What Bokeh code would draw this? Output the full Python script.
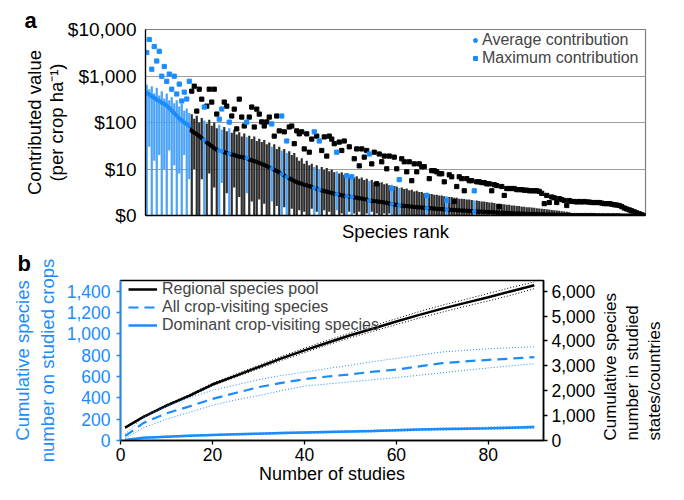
import math
from bokeh.plotting import figure
from bokeh.models import (Range1d, LinearAxis, FixedTicker, Legend, LegendItem,
                          NumeralTickFormatter)
from bokeh.embed import file_html
from bokeh.resources import INLINE

FONT = "Liberation Sans"
BLUE = "#1a8cff"
BAR_BLUE = "#4aa3f7"
BAR_BLACK = "#2e2e2e"

# ---------------- panel a data ----------------
RANK = list(range(1, 201))
BLUE_RANKS = list(range(1, 19)) + [24, 30, 31, 34, 41, 51, 55, 57, 68, 70, 77, 81, 83,
                                   90, 99, 102, 113, 121, 132]
AVG = [430, 400, 365, 335, 310, 290, 265, 250, 230, 205,
       180, 160, 140, 122, 112, 100, 92, 85, 66, 60,
       56, 51, 46, 42, 37, 34, 31, 28, 26, 25,
       24, 23, 22, 21.5, 20.5, 20, 19, 18.5, 18, 17.5,
       17.2, 16, 15.3, 14.8, 14.2, 13.5, 12.8, 12.2, 11.5, 10.8,
       10.2, 9.6, 9.0, 8.4, 7.8, 7.3, 6.8, 6.3, 5.9, 5.5,
       5.2, 5.0, 4.8, 4.6, 4.45, 4.3, 4.1, 3.95, 3.75, 3.6,
       3.45, 3.35, 3.25, 3.15, 3.05, 2.95, 2.87, 2.8, 2.72, 2.65,
       2.6, 2.55, 2.5, 2.45, 2.4, 2.35, 2.3, 2.25, 2.2, 2.1,
       2.07, 2.04, 2.01, 1.98, 1.95, 1.91, 1.86, 1.81, 1.76, 1.72,
       1.69, 1.66, 1.63, 1.61, 1.59, 1.57, 1.55, 1.53, 1.51, 1.5,
       1.48, 1.47, 1.45, 1.44, 1.42, 1.41, 1.39, 1.38, 1.37, 1.35,
       1.34, 1.33, 1.32, 1.31, 1.3, 1.29, 1.28, 1.27, 1.26, 1.25,
       1.24, 1.23, 1.22, 1.21, 1.21, 1.2, 1.19, 1.18, 1.18, 1.17,
       1.16, 1.15, 1.15, 1.14, 1.13, 1.13, 1.12, 1.11, 1.11, 1.1,
       1.1, 1.09, 1.09, 1.08, 1.08, 1.07, 1.07, 1.06, 1.06, 1.06,
       1.05, 1.05, 1.05, 1.04, 1.04, 1.04, 1.03, 1.03, 1.03, 1.03,
       1.02, 1.02, 1.02, 1.02, 1.02, 1.02, 1.02, 1.02, 1.02, 1.02,
       1.01, 1.01, 1.01, 1.01, 1.01, 1.01, 1.01, 1.01, 1.01, 1.01,
       1.0, 1.0, 1.0, 1.0, 1.0, 1.0, 1.0, 1.0, 1.0, 1.0]
MAXV = [3200, 6100, 1400, 4300, 2100, 3400, 990, 1600, 770, 1100,
        520, 990, 410, 670, 290, 450, 320, 770, 472, 604,
        176, 521, 318, 215, 225, 521, 275, 520, 152, 118,
        195, 275, 225, 102, 138, 194, 73, 318, 131, 84,
        102, 131, 215, 80, 194, 152, 103, 84, 103, 131,
        93, 51, 138, 66, 138, 63, 40, 80, 84, 35,
        66, 57, 63, 27, 57, 23, 44, 63, 51, 40,
        25, 49, 19, 51, 44, 35, 23, 38, 25, 40,
        7.2, 30, 6.8, 16.6, 27, 11.7, 27, 18, 25, 21,
        12.9, 23, 4.8, 21, 14.3, 19, 10.1, 19, 3.8, 18,
        10.1, 5.9, 16.6, 14.3, 8.7, 14.3, 5.6, 12.9, 8.7, 12.9,
        11.2, 11.2, 2.7, 6.2, 9.2, 9.2, 8.7, 7.9, 7.9, 5.3,
        2.1, 7.5, 6.8, 2.0, 4.2, 6.8, 6.2, 3.4, 6.2, 5.6,
        5.6, 3.4, 5.3, 5.3, 5.1, 5.1, 4.8, 4.8, 3.4, 4.6,
        4.4, 1.56, 4.2, 2.7, 3.8, 3.8, 3.8, 3.8, 3.6, 3.6,
        3.6, 3.5, 3.5, 3.4, 3.4, 3.4, 3.4, 3.3, 3.0, 1.8,
        2.7, 1.9, 2.5, 2.4, 1.9, 2.3, 2.2, 2.1, 1.64, 2.1,
        2.0, 2.0, 1.95, 2.0, 1.95, 2.0, 1.95, 1.95, 1.9, 1.9,
        1.9, 1.9, 1.85, 1.8, 1.8, 1.8, 1.75, 1.7, 1.68, 1.64,
        1.55, 1.45, 1.38, 1.32, 1.26, 1.2, 1.14, 1.09, 1.04, 1.0]
ERR_HI = [650, 520, 600, 420, 560, 380, 470, 330, 420, 300,
          350, 260, 300, 220, 250, 180, 200, 160, 150, 120,
          140, 100, 125, 110, 95, 115, 85, 100, 75, 90,
          70, 80, 65, 75, 60, 70, 55, 62, 50, 58,
          48, 52, 44, 50, 40, 45, 38, 42, 34, 37,
          30, 34, 27, 30, 25, 27, 22, 24, 20, 22,
          18, 15, 17, 13, 15, 12, 13, 11, 12, 10,
          11, 9.5, 10.5, 9, 9.8, 8.5, 9, 8, 8.5, 7.5,
          8, 7, 7.5, 6.6, 7, 6.2, 6.6, 5.8, 6.2, 5.5,
          5.8, 5.2, 5.5, 5, 5.2, 4.7, 4.9, 4.5, 4.6, 4.3,
          4.2, 3.9, 4.0, 3.7, 3.8, 3.5, 3.6, 3.3, 3.4, 3.2,
          3.2, 3.0, 3.1, 2.9, 2.9, 2.8, 2.8, 2.7, 2.7, 2.6,
          2.6, 2.5, 2.5, 2.4, 2.4, 2.3, 2.3, 2.25, 2.2, 2.2,
          2.15, 2.1, 2.1, 2.05, 2.0, 2.0, 1.95, 1.9, 1.9, 1.85,
          1.8, 1.8, 1.75, 1.75, 1.7, 1.7, 1.65, 1.65, 1.6, 1.6,
          1.55, 1.55, 1.5, 1.5, 1.48, 1.46, 1.44, 1.42, 1.4, 1.38,
          1.36, 1.34, 1.32, 1.3, 1.28, 1.26, 1.24, 1.22, 1.2, 1.18]
ERR_LO = [1, 30, 1, 15, 1, 20, 1, 10, 1, 25,
          1, 12, 1, 8, 1, 20, 1, 6, 1, 10,
          1, 1, 6, 1, 1, 8, 1, 4, 1, 1,
          5, 1, 3, 1, 1, 4, 1, 2.5, 1, 1,
          3, 1, 2, 1, 1, 2.2, 1, 1.8, 1, 1,
          2, 1, 1.6, 1, 1, 1.5, 1, 1, 1.4, 1,
          1, 1.3, 1, 1.2, 1, 1, 1.4, 1, 1.2, 1,
          1, 1.3, 1, 1.2, 1, 1, 1.3, 1, 1.1, 1,
          1, 1.2, 1, 1.1, 1, 1.2, 1, 1, 1.1, 1,
          1.2, 1, 1.1, 1, 1, 1.1, 1, 1.1, 1, 1,
          1, 1, 1, 1, 1, 1, 1, 1, 1, 1,
          1, 1, 1, 1, 1, 1, 1, 1, 1, 1,
          1, 1, 1, 1, 1, 1, 1, 1, 1, 1,
          1, 1, 1, 1, 1, 1, 1, 1, 1, 1,
          1, 1, 1, 1, 1, 1, 1, 1, 1, 1,
          1, 1, 1, 1, 1, 1, 1, 1, 1, 1,
          1, 1, 1, 1, 1, 1, 1, 1, 1, 1]
Y_TICKS_A = [1, 10, 100, 1000, 10000]
Y_LABELS_A = ["$0", "$10", "$100", "$1,000", "$10,000"]

# ---------------- panel b data ----------------
STUDIES = [1, 5, 10, 15, 20, 25, 30, 35, 40, 45, 50, 55, 60, 65, 70, 75, 80, 85, 90]
POOL = [515, 950, 1400, 1800, 2250, 2600, 2950, 3300, 3620, 3930, 4230, 4500, 4780,
        5050, 5300, 5530, 5760, 6000, 6240]
POOL_LO = [500, 920, 1360, 1750, 2200, 2540, 2880, 3220, 3530, 3840, 4130, 4390, 4660,
           4920, 5160, 5390, 5610, 5840, 6100]
POOL_HI = [530, 980, 1440, 1850, 2300, 2660, 3020, 3380, 3710, 4020, 4330, 4610, 4900,
           5180, 5440, 5670, 5910, 6150, 6370]
ALL = [40, 165, 255, 320, 390, 445, 500, 540, 575, 600, 620, 645, 665, 695, 725, 742,
       756, 768, 782]
ALL_HI = [60, 220, 320, 400, 470, 520, 570, 610, 640, 675, 705, 740, 770, 800, 830, 845,
          860, 870, 878]
ALL_LO = [20, 120, 200, 265, 330, 380, 420, 468, 510, 530, 550, 570, 590, 612, 635, 658,
          680, 700, 720]
DOM = [5, 25, 35, 45, 52, 58, 64, 70, 75, 80, 85, 90, 97, 102, 107, 111, 115, 120, 126]
DOM_HI = [8, 30, 41, 51, 58, 65, 71, 77, 83, 88, 93, 99, 106, 111, 116, 120, 125, 130, 136]
DOM_LO = [3, 20, 29, 39, 46, 51, 57, 63, 67, 72, 77, 81, 88, 93, 98, 102, 105, 110, 116]
X_TICKS_B = [0, 20, 40, 60, 80]
LEFT_TICKS = [0, 200, 400, 600, 800, 1000, 1200, 1400]
RIGHT_TICKS = [0, 1000, 2000, 3000, 4000, 5000, 6000]
RIGHT_LABEL_LINES = ["Cumulative species", "number in studied", "states/countries"]
RIGHT_MAX = 6430


def style_title(p, txt, offset, standoff):
    p.title.text = txt
    p.title.align = "left"
    p.title.offset = offset
    p.title.standoff = standoff
    p.title.text_font = FONT
    p.title.text_font_size = "22px"
    p.title.text_font_style = "bold"
    p.title.text_color = "black"


def style_axis_label(ax, text, color, standoff, size="18.5px", lh=1.2):
    ax.axis_label = text
    ax.axis_label_text_font = FONT
    ax.axis_label_text_font_size = size
    ax.axis_label_text_font_style = "normal"
    ax.axis_label_text_color = color
    ax.axis_label_text_line_height = lh
    ax.axis_label_standoff = standoff


# ================= panel a =================
pa = figure(width=668, height=243, frame_width=500, frame_height=186,
            min_border_left=145, min_border_right=23, min_border_top=29,
            min_border_bottom=28, x_range=Range1d(0.5, 200.5),
            y_range=Range1d(1, 10000), y_axis_type="log",
            output_backend="svg", toolbar_location=None)
style_title(pa, "a", -121, -6)
pa.outline_line_color = "#7f7f7f"
pa.outline_line_width = 1.2
pa.xgrid.grid_line_color = None
pa.ygrid.ticker = FixedTicker(ticks=[10, 100, 1000])
pa.ygrid.grid_line_color = "#9e9e9e"
pa.ygrid.grid_line_width = 1.2
ya = pa.yaxis[0]
ya.ticker = FixedTicker(ticks=Y_TICKS_A, minor_ticks=[])
ya.major_label_overrides = dict(zip(Y_TICKS_A, Y_LABELS_A))
ya.major_tick_out = 0
ya.major_tick_in = 0
ya.minor_tick_line_color = None
ya.major_label_standoff = 9
ya.major_label_text_font = FONT
ya.major_label_text_font_size = "19px"
ya.major_label_text_color = "black"
ya.axis_line_color = "black"
ya.axis_line_width = 1.3
style_axis_label(ya, "Contributed value\n(per crop ha\u207b\u00b9)", "black", -2, lh=1.05)
xa = pa.xaxis[0]
xa.ticker = FixedTicker(ticks=[])
xa.major_tick_out = 0
xa.minor_tick_line_color = None
xa.axis_line_color = "black"
xa.axis_line_width = 1.5
style_axis_label(xa, "Species rank", "black", 5)

bset = set(BLUE_RANKS)
n_err = min(len(ERR_HI), len(ERR_LO))
for grp, col in ((False, BAR_BLACK), (True, BAR_BLUE)):
    idx = [i for i in range(n_err) if (RANK[i] in bset) == grp]
    pa.segment(x0=[RANK[i] for i in idx], y0=[ERR_LO[i] for i in idx],
               x1=[RANK[i] for i in idx], y1=[ERR_HI[i] for i in idx],
               line_color=col, line_width=2.2)

pa.line(RANK, AVG, line_color="black", line_width=1.2)
avg_r = {}
max_r = {}
for grp, col in ((False, "black"), (True, BLUE)):
    idx = [i for i in range(len(RANK)) if (RANK[i] in bset) == grp]
    avg_r[grp] = pa.scatter([RANK[i] for i in idx], [AVG[i] for i in idx],
                            marker="circle", size=3.6, fill_color=col, line_color=col)
for grp, col in ((False, "black"), (True, BLUE)):
    idx = [i for i in range(len(RANK)) if (RANK[i] in bset) == grp]
    max_r[grp] = pa.scatter([RANK[i] for i in idx], [MAXV[i] for i in idx],
                            marker="square", size=4.2, fill_color=col, line_color=col)

leg_a = Legend(items=[LegendItem(label="Average contribution", renderers=[avg_r[True]]),
                      LegendItem(label="Maximum contribution", renderers=[max_r[True]])],
               location=(325, 148), border_line_color=None, background_fill_alpha=0,
               label_text_font=FONT, label_text_font_size="16px", glyph_width=10,
               glyph_height=18, label_height=18, label_standoff=2, spacing=0,
               padding=0, margin=0)
pa.add_layout(leg_a)

# ================= panel b =================
FRAME_H_B = 160
pb = figure(width=668, height=241, frame_width=423, frame_height=FRAME_H_B,
            min_border_left=120, min_border_right=125, min_border_top=33,
            min_border_bottom=48, x_range=Range1d(0, 92), y_range=Range1d(0, 1500),
            output_backend="svg", toolbar_location=None)
style_title(pb, "b", -103, 9)
pb.extra_y_ranges = {"right": Range1d(0, RIGHT_MAX)}
pb.xgrid.grid_line_color = None
pb.ygrid.grid_line_color = None
pb.outline_line_color = "black"
pb.outline_line_width = 1.5

xb = pb.xaxis[0]
xb.ticker = FixedTicker(ticks=X_TICKS_B)
yb = pb.yaxis[0]
yb.ticker = FixedTicker(ticks=LEFT_TICKS)
yb.formatter = NumeralTickFormatter(format="0,0")
rb = LinearAxis(y_range_name="right", ticker=FixedTicker(ticks=RIGHT_TICKS),
                formatter=NumeralTickFormatter(format="0,0"))
pb.add_layout(rb, "right")
for ax, col, so in ((xb, "black", 3), (yb, BLUE, 6), (rb, "black", 4)):
    ax.axis_line_color = col
    ax.axis_line_width = 1.5
    ax.major_tick_line_color = col
    ax.major_tick_line_width = 1.3
    ax.major_tick_out = 4
    ax.major_tick_in = 0
    ax.minor_tick_line_color = None
    ax.major_label_standoff = so
    ax.major_label_text_font = FONT
    ax.major_label_text_font_size = "17.5px"
    ax.major_label_text_color = col
style_axis_label(xb, "Number of studies", "black", 0, size="18px")
style_axis_label(yb, "Cumulative species\nnumber on studied crops", BLUE, 6)

# right-hand title: one label-only axis per line, reading bottom to top
R_SIZE = 17
for k, line in enumerate(RIGHT_LABEL_LINES):
    lab_ax = LinearAxis(y_range_name="right", ticker=FixedTicker(ticks=[]))
    lab_ax.axis_line_color = None
    lab_ax.major_tick_out = 0
    lab_ax.major_tick_in = 0
    lab_ax.minor_tick_out = 0
    lab_ax.minor_tick_in = 0
    lab_ax.major_label_standoff = 0
    lab_ax.axis_label_orientation = math.pi / 2
    style_axis_label(lab_ax, line, "black", 12 if k == 0 else 0, size="%dpx" % R_SIZE)
    try:
        lab_ax.axis_label_align = "start"
    except Exception:
        pass
    pb.add_layout(lab_ax, "right")

dot = "1 2"
pb.line(STUDIES, POOL_LO, y_range_name="right", line_color="black", line_width=1, line_dash=dot)
pb.line(STUDIES, POOL_HI, y_range_name="right", line_color="black", line_width=1, line_dash=dot)
r_pool = pb.line(STUDIES, POOL, y_range_name="right", line_color="black", line_width=2.5)
pb.line(STUDIES, ALL_LO, line_color=BLUE, line_width=1, line_dash=dot)
pb.line(STUDIES, ALL_HI, line_color=BLUE, line_width=1, line_dash=dot)
r_all = pb.line(STUDIES, ALL, line_color=BLUE, line_width=2.2, line_dash="10 6")
pb.line(STUDIES, DOM_LO, line_color=BLUE, line_width=1, line_dash=dot)
pb.line(STUDIES, DOM_HI, line_color=BLUE, line_width=1, line_dash=dot)
r_dom = pb.line(STUDIES, DOM, line_color=BLUE, line_width=2.5)

leg_b = Legend(items=[LegendItem(label="Regional species pool", renderers=[r_pool]),
                      LegendItem(label="All crop-visiting species", renderers=[r_all]),
                      LegendItem(label="Dominant crop-visiting species", renderers=[r_dom])],
               location=(8, 106), border_line_color=None, background_fill_alpha=0,
               label_text_font=FONT, label_text_font_size="16px", glyph_width=29,
               glyph_height=16, label_height=16, label_standoff=5, spacing=0,
               padding=0, margin=0)
pb.add_layout(leg_b)

open("out.html", "w").write(file_html([pa, pb], INLINE))
